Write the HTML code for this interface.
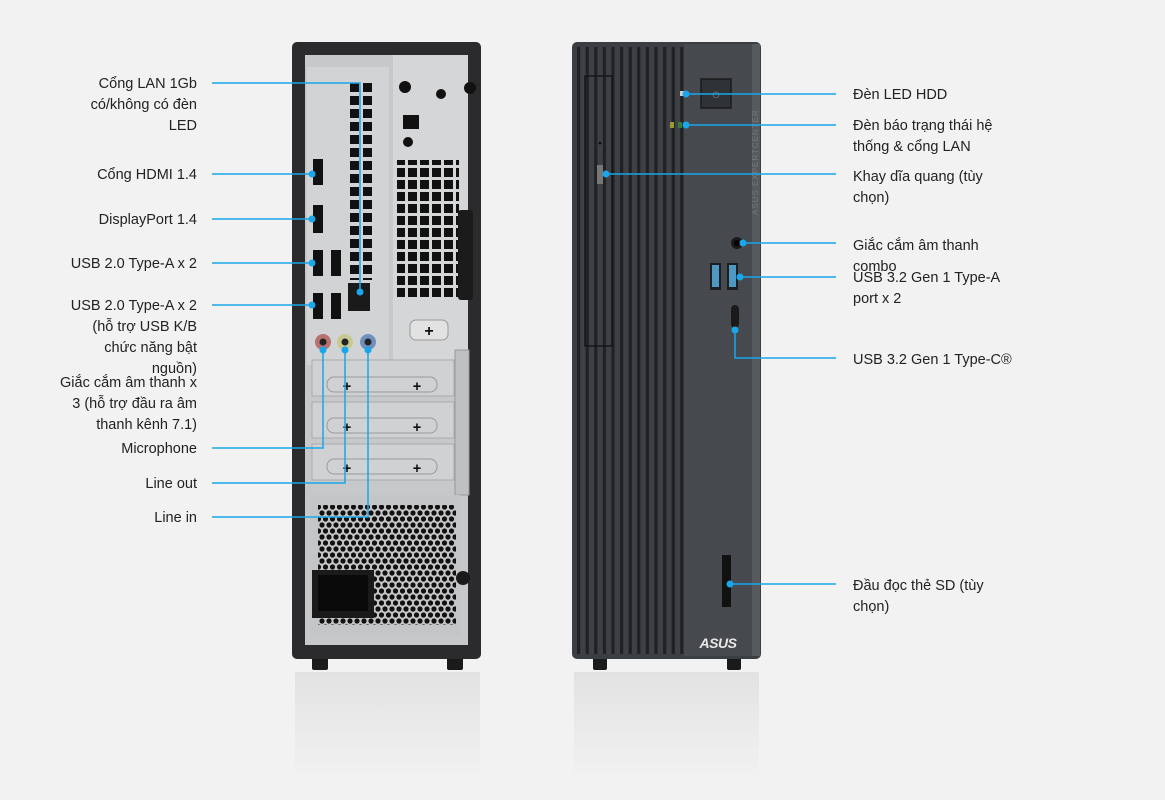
<!DOCTYPE html>
<html><head><meta charset="utf-8"><style>
html,body{margin:0;padding:0;background:#f2f2f2;}
svg{display:block}
text{font-family:"Liberation Sans","DejaVu Sans",sans-serif;font-size:14.5px;fill:#222;}
</style></head><body>
<svg width="1165" height="800" viewBox="0 0 1165 800" xmlns="http://www.w3.org/2000/svg">
<defs>
<pattern id="sq" x="0" y="0" width="12" height="12" patternUnits="userSpaceOnUse"><rect width="9" height="9" fill="#111"/></pattern>
<pattern id="sq2" x="350" y="83" width="13" height="13" patternUnits="userSpaceOnUse"><rect width="9" height="9" fill="#111"/></pattern>
<pattern id="hex" x="0" y="0" width="7" height="12" patternUnits="userSpaceOnUse"><circle cx="3.5" cy="3" r="2.6" fill="#111"/><circle cx="0" cy="9" r="2.6" fill="#111"/><circle cx="7" cy="9" r="2.6" fill="#111"/></pattern>
<pattern id="groove" x="577" y="0" width="8.6" height="10" patternUnits="userSpaceOnUse"><rect width="8.6" height="10" fill="#3d4045"/><rect x="0" width="3.2" height="10" fill="#1f2124"/></pattern>
<linearGradient id="refl" x1="0" y1="0" x2="0" y2="1"><stop offset="0" stop-color="#e2e2e2"/><stop offset="1" stop-color="#f2f2f2"/></linearGradient>
</defs>
<rect width="1165" height="800" fill="#f2f2f2"/>

<!-- reflections -->
<rect x="295" y="672" width="185" height="110" fill="url(#refl)"/>
<rect x="574" y="672" width="185" height="110" fill="url(#refl)"/>

<!-- BACK -->
<rect x="312" y="650" width="16" height="20" rx="2" fill="#1a1a1a"/>
<rect x="447" y="650" width="16" height="20" rx="2" fill="#1a1a1a"/>
<rect x="292" y="42" width="189" height="617" rx="5" fill="#2b2b2d"/>
<rect x="305" y="55" width="163" height="590" fill="#c7c8ca"/>
<rect x="393" y="55" width="75" height="310" fill="#d5d6d8"/>
<rect x="307" y="67" width="82" height="298" fill="#d2d3d5"/>
<rect x="350" y="83" width="26" height="197" fill="url(#sq2)"/>
<rect x="397" y="160" width="62" height="140" fill="url(#sq)"/>
<circle cx="405" cy="87" r="6" fill="#111"/><circle cx="441" cy="94" r="5" fill="#111"/>
<rect x="403" y="115" width="16" height="14" fill="#111"/><circle cx="408" cy="142" r="5" fill="#111"/>
<rect x="458" y="210" width="15" height="90" rx="3" fill="#1b1b1b"/>
<circle cx="470" cy="88" r="6" fill="#111"/>
<rect x="410" y="320" width="38" height="20" rx="6" fill="#e2e2e3" stroke="#999"/>
<text x="429" y="336" text-anchor="middle" style="font-size:16px;font-weight:bold;fill:#111">+</text>
<!-- io ports -->
<rect x="313" y="159" width="10" height="26" fill="#111"/>
<rect x="313" y="205" width="10" height="28" fill="#111"/>
<rect x="313" y="250" width="10" height="26" fill="#111"/><rect x="331" y="250" width="10" height="26" fill="#111"/>
<rect x="313" y="293" width="10" height="26" fill="#111"/><rect x="331" y="293" width="10" height="26" fill="#111"/>
<rect x="348" y="283" width="22" height="28" fill="#1a1a1a"/>
<circle cx="323" cy="342" r="8" fill="#b87070"/><circle cx="323" cy="342" r="3.5" fill="#222"/>
<circle cx="345" cy="342" r="8" fill="#c8c890"/><circle cx="345" cy="342" r="3.5" fill="#222"/>
<circle cx="368" cy="342" r="8" fill="#6f8fbf"/><circle cx="368" cy="342" r="3.5" fill="#222"/>
<!-- slots -->
<rect x="312" y="360" width="142" height="36" fill="#d0d1d3" stroke="#aaa"/>
<rect x="312" y="402" width="142" height="36" fill="#d0d1d3" stroke="#aaa"/>
<rect x="312" y="444" width="142" height="36" fill="#d0d1d3" stroke="#aaa"/>
<rect x="327" y="377" width="110" height="15" rx="7" fill="none" stroke="#999"/>
<rect x="327" y="418" width="110" height="15" rx="7" fill="none" stroke="#999"/>
<rect x="327" y="459" width="110" height="15" rx="7" fill="none" stroke="#999"/>
<g style="font-size:15px;font-weight:bold"><text x="347" y="391" text-anchor="middle" style="fill:#111;font-weight:bold">+</text><text x="417" y="391" text-anchor="middle" style="fill:#111;font-weight:bold">+</text>
<text x="347" y="432" text-anchor="middle" style="fill:#111;font-weight:bold">+</text><text x="417" y="432" text-anchor="middle" style="fill:#111;font-weight:bold">+</text>
<text x="347" y="473" text-anchor="middle" style="fill:#111;font-weight:bold">+</text><text x="417" y="473" text-anchor="middle" style="fill:#111;font-weight:bold">+</text></g>
<rect x="455" y="350" width="14" height="145" fill="#bfc0c2" stroke="#999"/>
<!-- psu -->
<rect x="310" y="495" width="150" height="140" fill="#c4c5c7"/>
<rect x="318" y="505" width="138" height="120" fill="url(#hex)"/>
<rect x="312" y="570" width="62" height="48" fill="#1a1a1a"/>
<rect x="318" y="575" width="50" height="36" fill="#0a0a0a"/>
<circle cx="463" cy="578" r="7" fill="#1a1a1a"/>

<!-- FRONT -->
<rect x="593" y="650" width="14" height="20" rx="2" fill="#1a1a1a"/>
<rect x="727" y="650" width="14" height="20" rx="2" fill="#1a1a1a"/>
<rect x="572" y="42" width="189" height="617" rx="5" fill="#3b3e43"/>
<rect x="577" y="47" width="107" height="607" fill="url(#groove)"/>
<rect x="585" y="76" width="27" height="270" fill="none" stroke="#151617" stroke-width="1.5"/>
<rect x="684" y="44" width="68" height="612" fill="#46494e"/>
<rect x="752" y="44" width="8" height="612" fill="#56595e"/>
<text transform="translate(758,215) rotate(-90)" style="font-size:8px;fill:#777;letter-spacing:1px">ASUS EXPERTCENTER</text>
<rect x="701" y="79" width="30" height="29" fill="#2f3236" stroke="#1a1a1a" stroke-width="1.5"/>
<text x="716" y="98" text-anchor="middle" style="font-size:9px;fill:#888">⏻</text>
<rect x="680" y="91" width="4" height="5" fill="#ccc"/>
<rect x="670" y="122" width="4" height="6" fill="#9a9a30"/><rect x="678" y="122" width="4" height="6" fill="#3a7a3a"/>
<circle cx="600" cy="143" r="1.5" fill="#111"/>
<rect x="597" y="165" width="6" height="19" fill="#777"/>
<circle cx="737" cy="243" r="6" fill="#1a1a1a"/><circle cx="737" cy="243" r="3" fill="#000"/>
<rect x="710" y="263" width="11" height="27" fill="#1d1e20"/><rect x="712" y="265" width="7" height="22" fill="#4f98c4"/>
<rect x="727" y="263" width="11" height="27" fill="#1d1e20"/><rect x="729" y="265" width="7" height="22" fill="#4f98c4"/>
<rect x="731" y="305" width="8" height="23" rx="4" fill="#1a1a1a"/>
<rect x="722" y="555" width="9" height="52" fill="#111"/>
<text x="718" y="648" text-anchor="middle" style="font-size:14px;font-style:italic;font-weight:bold;fill:#e8e8e8;letter-spacing:-0.5px">ASUS</text>

<!-- connectors -->
<g stroke="#1aa6ea" stroke-width="1.5" fill="none">
<polyline points="212,83 360,83 360,292"/>
<line x1="212" y1="174" x2="312" y2="174"/>
<line x1="212" y1="219" x2="312" y2="219"/>
<line x1="212" y1="263" x2="312" y2="263"/>
<line x1="212" y1="305" x2="312" y2="305"/>
<polyline points="212,448 323,448 323,350"/>
<polyline points="212,483 345,483 345,350"/>
<polyline points="212,517 368,517 368,350"/>
<line x1="686" y1="94" x2="836" y2="94"/>
<line x1="686" y1="125" x2="836" y2="125"/>
<line x1="606" y1="174" x2="836" y2="174"/>
<line x1="743" y1="243" x2="836" y2="243"/>
<line x1="740" y1="277" x2="836" y2="277"/>
<polyline points="735,330 735,358 836,358"/>
<line x1="730" y1="584" x2="836" y2="584"/>
</g>
<g fill="#1aa6ea">
<circle cx="360" cy="292" r="3.5"/><circle cx="312" cy="174" r="3.5"/><circle cx="312" cy="219" r="3.5"/>
<circle cx="312" cy="263" r="3.5"/><circle cx="312" cy="305" r="3.5"/>
<circle cx="323" cy="350" r="3.5"/><circle cx="345" cy="350" r="3.5"/><circle cx="368" cy="350" r="3.5"/>
<circle cx="686" cy="94" r="3.5"/><circle cx="686" cy="125" r="3.5"/><circle cx="606" cy="174" r="3.5"/>
<circle cx="743" cy="243" r="3.5"/><circle cx="740" cy="277" r="3.5"/><circle cx="735" cy="330" r="3.5"/>
<circle cx="730" cy="584" r="3.5"/>
</g>

<!-- left labels -->
<g text-anchor="end">
<text x="197" y="88">Cổng LAN 1Gb</text>
<text x="197" y="109">có/không có đèn</text>
<text x="197" y="130">LED</text>
<text x="197" y="179">Cổng HDMI 1.4</text>
<text x="197" y="224">DisplayPort 1.4</text>
<text x="197" y="268">USB 2.0 Type-A x 2</text>
<text x="197" y="310">USB 2.0 Type-A x 2</text>
<text x="197" y="331">(hỗ trợ USB K/B</text>
<text x="197" y="352">chức năng bật</text>
<text x="197" y="373">nguồn)</text>
<text x="197" y="387">Giắc cắm âm thanh x</text>
<text x="197" y="408">3 (hỗ trợ đầu ra âm</text>
<text x="197" y="429">thanh kênh 7.1)</text>
<text x="197" y="453">Microphone</text>
<text x="197" y="488">Line out</text>
<text x="197" y="522">Line in</text>
</g>
<!-- right labels -->
<g>
<text x="853" y="99">Đèn LED HDD</text>
<text x="853" y="130">Đèn báo trạng thái hệ</text>
<text x="853" y="151">thống &amp; cổng LAN</text>
<text x="853" y="181">Khay dĩa quang (tùy</text>
<text x="853" y="202">chọn)</text>
<text x="853" y="250">Giắc cắm âm thanh</text>
<text x="853" y="271">combo</text>
<text x="853" y="282">USB 3.2 Gen 1 Type-A</text>
<text x="853" y="303">port x 2</text>
<text x="853" y="364">USB 3.2 Gen 1 Type-C®</text>
<text x="853" y="590">Đầu đọc thẻ SD (tùy</text>
<text x="853" y="611">chọn)</text>
</g>
</svg>
</body></html>
